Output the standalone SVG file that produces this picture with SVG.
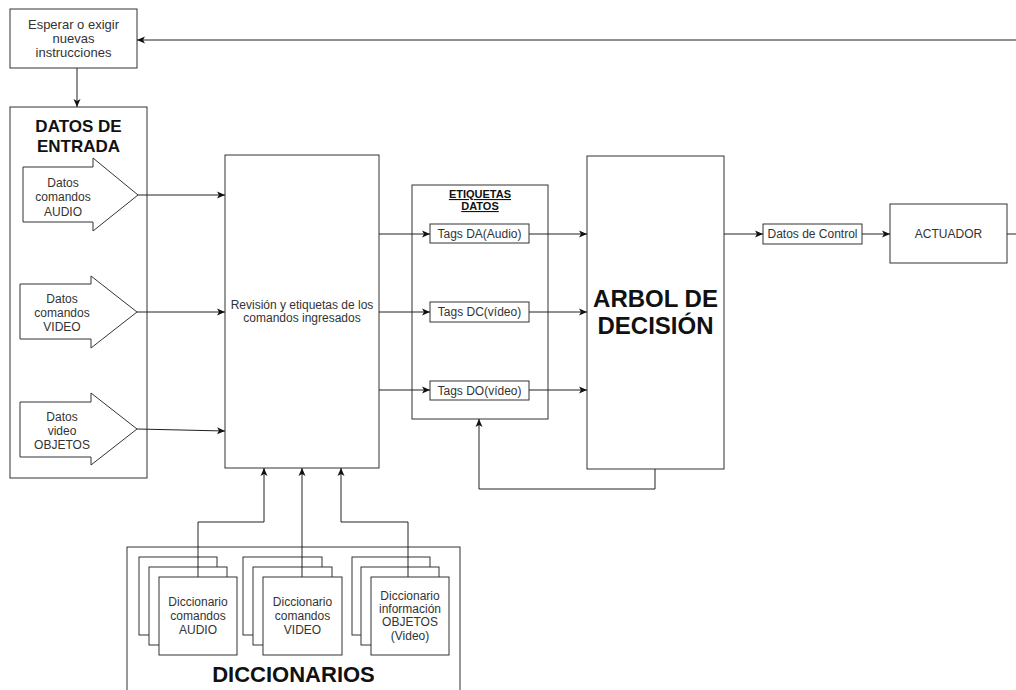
<svg xmlns="http://www.w3.org/2000/svg" width="1016" height="690" viewBox="0 0 1016 690">
<defs>
<marker id="ah" markerUnits="userSpaceOnUse" markerWidth="9" markerHeight="9" refX="8" refY="4" orient="auto" overflow="visible">
<path d="M0,0.5 L8,4 L0,7.5 L2,4 Z" fill="#111"/>
</marker>
<style>
.box{fill:#fff;stroke:#333;stroke-width:1}
.t{font-family:"Liberation Sans",Arial,sans-serif;font-size:12px;fill:#333;text-anchor:middle}
.t13{font-size:13px}
.tb{font-family:"Liberation Sans",Arial,sans-serif;font-weight:bold;fill:#111;text-anchor:middle}
.c{fill:none;stroke:#222;stroke-width:1;marker-end:url(#ah)}
</style>
</defs>
<rect width="1016" height="690" fill="#fff"/>

<g id="esperar">
<rect class="box" x="10" y="9" width="127" height="59"/>
<text class="t t13" x="73.5" y="29">Esperar o exigir</text>
<text class="t t13" x="73.5" y="43">nuevas</text>
<text class="t t13" x="73.5" y="57">instrucciones</text>
</g>

<g id="datos-entrada">
<rect class="box" x="10" y="107" width="137" height="371"/>
<text class="tb" x="78.5" y="132" font-size="17">DATOS DE</text>
<text class="tb" x="78.5" y="152" font-size="17">ENTRADA</text>
</g>

<g id="arrow-audio">
<path class="box" d="M23,167 H93 V158 L138,195 L93,231 V222 H23 Z"/>
<text class="t" x="63" y="187">Datos</text>
<text class="t" x="63" y="201">comandos</text>
<text class="t" x="63" y="216">AUDIO</text>
</g>
<g id="arrow-video">
<path class="box" d="M20,284 H91 V276 L137,312 L91,348 V339 H20 Z"/>
<text class="t" x="62" y="303">Datos</text>
<text class="t" x="62" y="317">comandos</text>
<text class="t" x="62" y="331">VIDEO</text>
</g>
<g id="arrow-objetos">
<path class="box" d="M20,402 H91 V393 L137,429 L91,465 V457 H20 Z"/>
<text class="t" x="62" y="421">Datos</text>
<text class="t" x="62" y="435">video</text>
<text class="t" x="62" y="449">OBJETOS</text>
</g>

<g id="revision">
<rect class="box" x="225" y="155" width="154" height="313"/>
<text class="t" x="302" y="309">Revisión y etiquetas de los</text>
<text class="t" x="302" y="322">comandos ingresados</text>
</g>

<g id="etiquetas">
<rect class="box" x="412" y="185" width="136" height="234"/>
<text class="tb" x="480" y="198" font-size="11" text-decoration="underline">ETIQUETAS</text>
<text class="tb" x="480" y="210" font-size="11" text-decoration="underline">DATOS</text>
</g>
<g id="tag-da">
<rect class="box" x="430" y="224" width="99" height="19"/>
<text class="t" x="479.5" y="238">Tags DA(Audio)</text>
</g>
<g id="tag-dc">
<rect class="box" x="430" y="302" width="99" height="20"/>
<text class="t" x="479.5" y="316">Tags DC(vídeo)</text>
</g>
<g id="tag-do">
<rect class="box" x="430" y="381" width="99" height="19"/>
<text class="t" x="479.5" y="395">Tags DO(vídeo)</text>
</g>

<g id="arbol">
<rect class="box" x="587" y="156" width="137" height="313"/>
<text class="tb" x="655.5" y="307" font-size="24">ARBOL DE</text>
<text class="tb" x="655.5" y="334" font-size="24">DECISIÓN</text>
</g>

<g id="datos-control">
<rect class="box" x="763" y="224" width="99" height="20"/>
<text class="t" x="812.5" y="238">Datos de Control</text>
</g>

<g id="actuador">
<rect class="box" x="890" y="204" width="117" height="59"/>
<text class="t" x="948.5" y="238">ACTUADOR</text>
</g>

<g id="diccionarios">
<rect class="box" x="127" y="547" width="333" height="160"/>
<text class="tb" x="293.5" y="682" font-size="22">DICCIONARIOS</text>
</g>
<g id="dic-audio">
<rect class="box" x="139" y="557" width="78" height="78"/>
<rect class="box" x="149" y="567" width="78" height="78"/>
<rect class="box" x="159" y="577" width="78" height="78"/>
<text class="t" x="198" y="606">Diccionario</text>
<text class="t" x="198" y="620">comandos</text>
<text class="t" x="198" y="634">AUDIO</text>
</g>
<g id="dic-video">
<rect class="box" x="243" y="557" width="79" height="78"/>
<rect class="box" x="253" y="567" width="79" height="78"/>
<rect class="box" x="263" y="577" width="79" height="78"/>
<text class="t" x="302.5" y="606">Diccionario</text>
<text class="t" x="302.5" y="620">comandos</text>
<text class="t" x="302.5" y="634">VIDEO</text>
</g>
<g id="dic-objetos">
<rect class="box" x="352" y="557" width="78" height="78"/>
<rect class="box" x="361" y="567" width="78" height="78"/>
<rect class="box" x="371" y="577" width="78" height="78"/>
<text class="t" x="410" y="600">Diccionario</text>
<text class="t" x="410" y="613">información</text>
<text class="t" x="410" y="626">OBJETOS</text>
<text class="t" x="410" y="640">(Video)</text>
</g>

<g id="connectors">
<path class="c" d="M77,68 V107"/>
<path class="c" d="M138,195 H225"/>
<path class="c" d="M137,312 H225"/>
<path class="c" d="M137,429 L225,431"/>
<path class="c" d="M379,234 H430"/>
<path class="c" d="M379,312 H430"/>
<path class="c" d="M379,390 H430"/>
<path class="c" d="M529,234 H587"/>
<path class="c" d="M529,312 H587"/>
<path class="c" d="M529,390 H587"/>
<path class="c" d="M724,234 H763"/>
<path class="c" d="M862,234 H890"/>
<path class="c" d="M1007,234 H1030 V40 H137"/>
<path class="c" d="M655,469 V489 H479 V419"/>
<path class="c" d="M198,577 V522 H264 V468"/>
<path class="c" d="M302,577 V468"/>
<path class="c" d="M408,577 V522 H341 V468"/>
</g>
</svg>
